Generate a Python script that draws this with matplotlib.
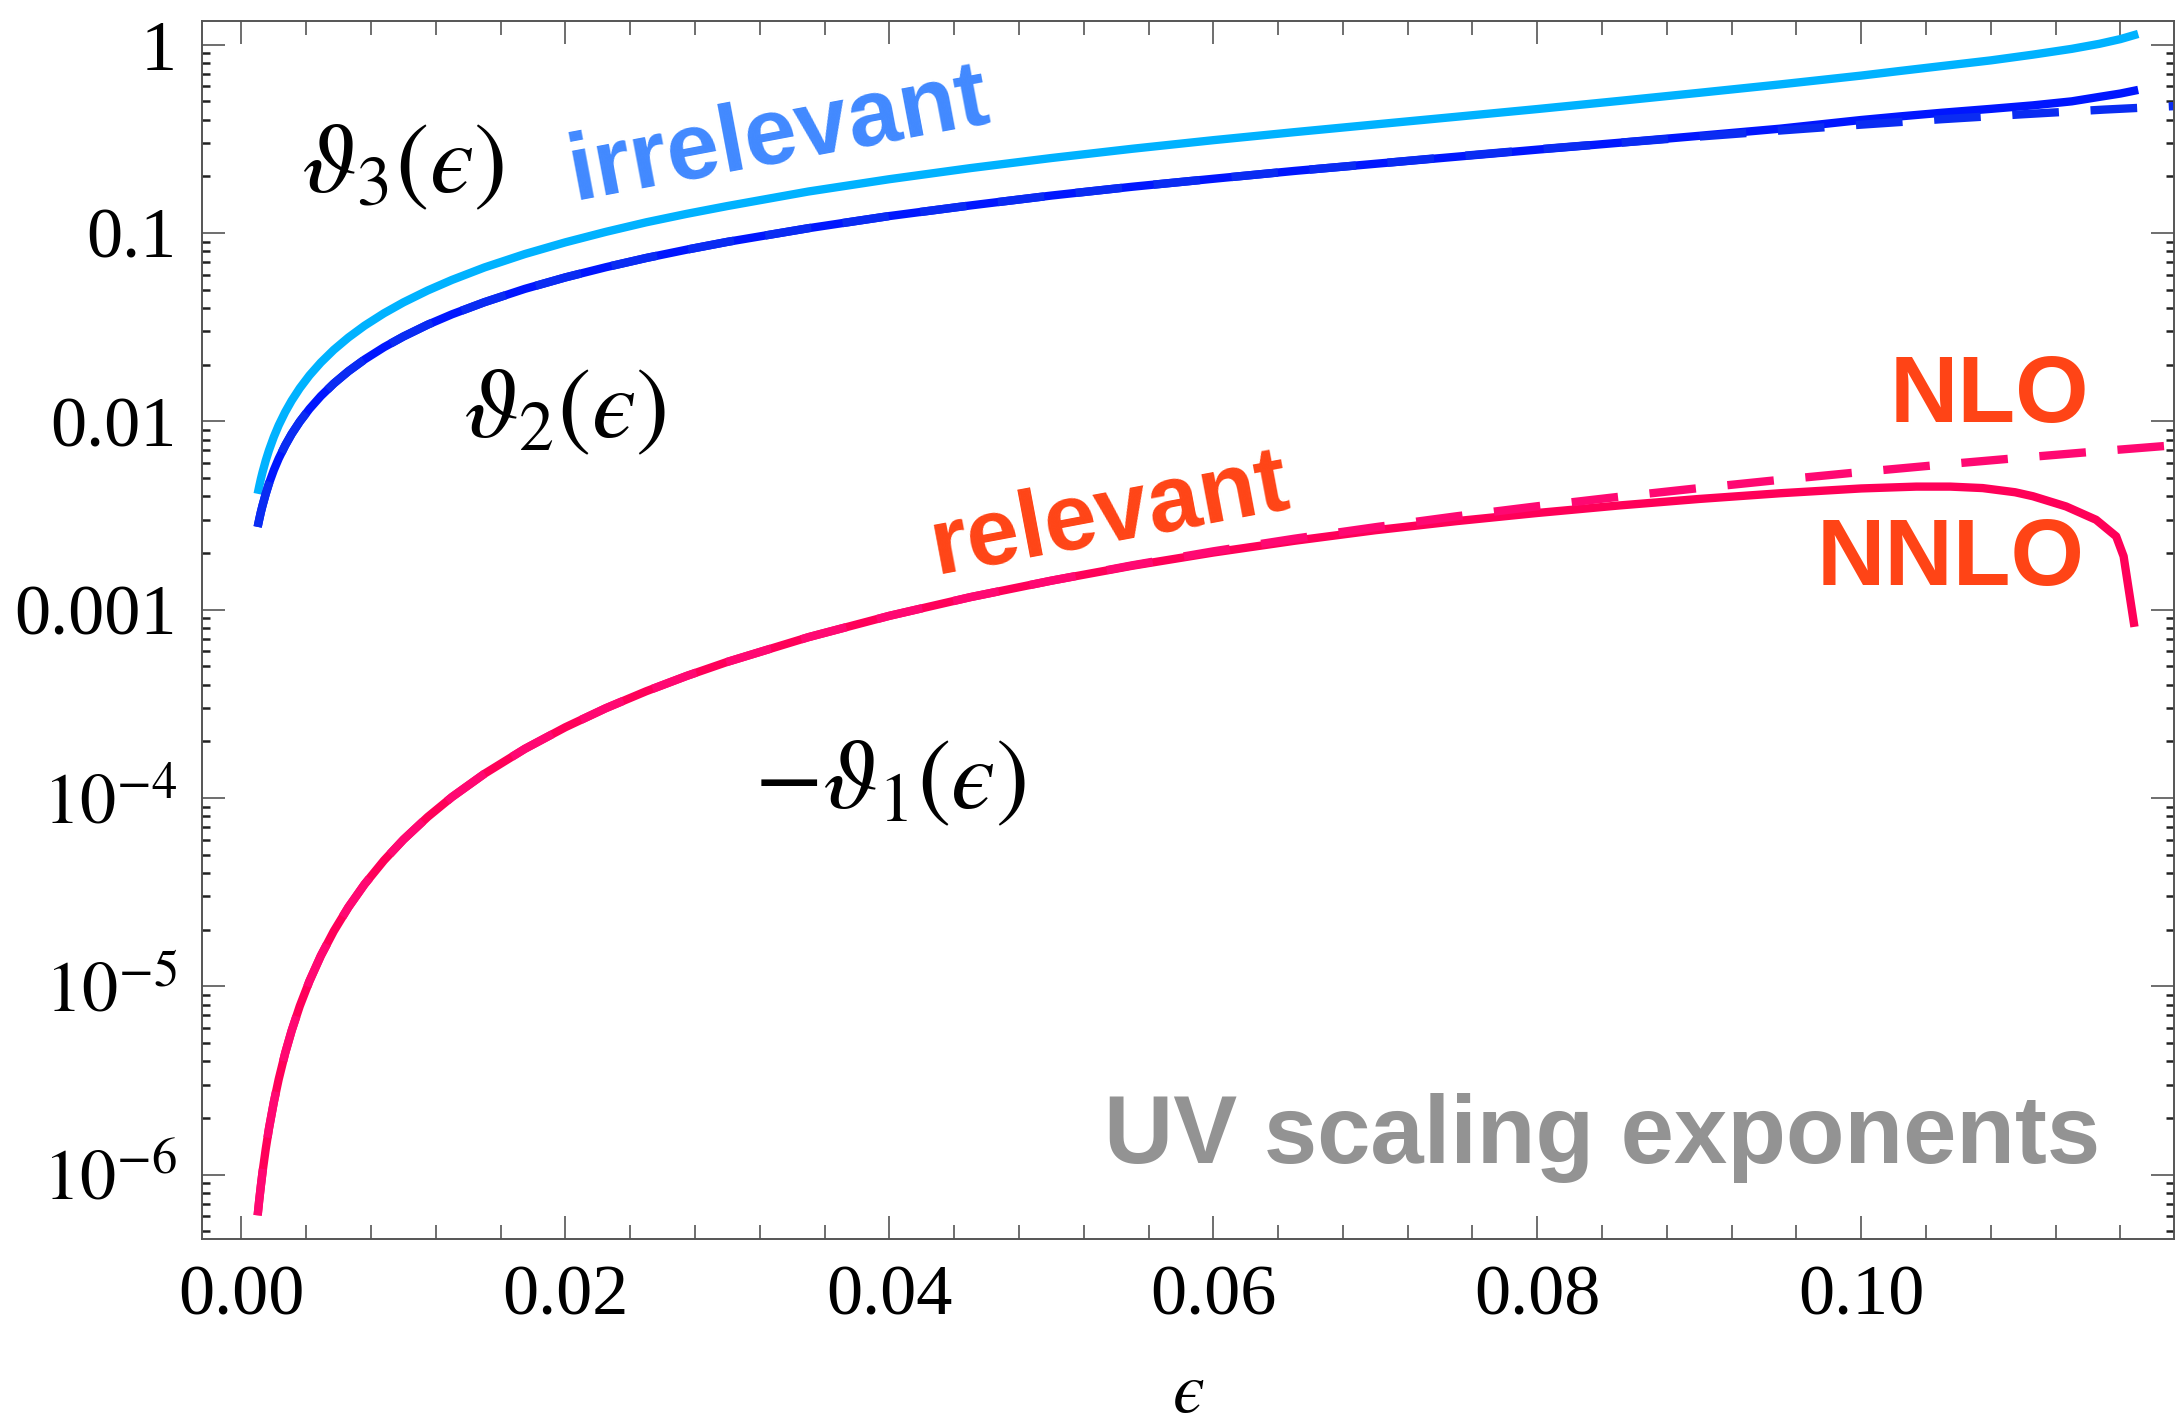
import matplotlib.pyplot as plt
import numpy as np
from matplotlib.ticker import FixedLocator, FixedFormatter, LogLocator, MultipleLocator, NullFormatter

plt.rcParams['mathtext.fontset'] = 'stix'
plt.rcParams['font.family'] = 'Liberation Serif'

# epsilon grid shared by all exponents up to 0.1 (dense near the origin)
eps_core = [0.001, 0.0011, 0.0012, 0.0013, 0.0015, 0.0017, 0.002, 0.0023, 0.0027,
            0.0031, 0.0036, 0.0042, 0.0049, 0.0057, 0.0066, 0.0076, 0.0088, 0.01,
            0.0115, 0.013, 0.015, 0.0175, 0.02, 0.0225, 0.025, 0.0275, 0.03, 0.035,
            0.04, 0.045, 0.05, 0.055, 0.06, 0.065, 0.07, 0.075, 0.08, 0.085, 0.09,
            0.095, 0.1]

# irrelevant exponents (NNLO), ending where the fixed point disappears
eps_irr_tail = [0.1024, 0.105, 0.108, 0.1106, 0.113, 0.1147, 0.116, 0.1171]
theta3 = [0.00412, 0.00453, 0.00495, 0.00536, 0.00619, 0.00702, 0.00827, 0.00953, 0.0112,
          0.01288, 0.01499, 0.01754, 0.02052, 0.02396, 0.02784, 0.0322, 0.03747, 0.0428,
          0.04953, 0.05634, 0.0656, 0.0773, 0.0892, 0.1014, 0.114, 0.1264, 0.139, 0.166,
          0.193, 0.221, 0.250, 0.280, 0.311, 0.343, 0.377, 0.414, 0.455, 0.502, 0.555,
          0.615, 0.685,
          0.725, 0.770, 0.825, 0.885, 0.950, 1.010, 1.070, 1.140]
theta2 = [0.00275, 0.00302, 0.0033, 0.00357, 0.00412, 0.00468, 0.00551, 0.00634, 0.00745,
          0.00857, 0.00996, 0.01164, 0.01361, 0.01587, 0.01843, 0.02129, 0.02474, 0.0282,
          0.03259, 0.037, 0.0429, 0.0505, 0.0581, 0.0658, 0.0737, 0.0816, 0.0897, 0.106,
          0.123, 0.140, 0.158, 0.176, 0.194, 0.2135, 0.233, 0.254, 0.277, 0.301, 0.328,
          0.358, 0.398,
          0.416, 0.435, 0.456, 0.476, 0.500, 0.528, 0.550, 0.575]

# theta2 at NLO, continued to the edge of the frame
eps_nlo_tail = [0.105, 0.11, 0.115, 0.1194]
theta2_nlo = [0.00275, 0.00302, 0.0033, 0.00357, 0.00412, 0.00468, 0.00551, 0.00634, 0.00745,
              0.00857, 0.00996, 0.01164, 0.01361, 0.01587, 0.01843, 0.02129, 0.02474, 0.0282,
              0.03259, 0.037, 0.0429, 0.0505, 0.0581, 0.0658, 0.0737, 0.0816, 0.0897, 0.106,
              0.123, 0.140, 0.158, 0.176, 0.194, 0.2135, 0.233, 0.255, 0.278, 0.301, 0.325,
              0.350, 0.376,
              0.402, 0.427, 0.452, 0.472]

# relevant exponent -theta1
eps_rel_tail = [0.1034, 0.1055, 0.1075, 0.1095, 0.1106, 0.11265, 0.1145, 0.11574, 0.1162, 0.11687]
theta1_nnlo = [6.08e-7, 7.36e-7, 8.75e-7, 1.03e-6, 1.37e-6, 1.76e-6, 2.43e-6, 3.21e-6, 4.42e-6,
               5.82e-6, 7.85e-6, 1.067e-5, 1.452e-5, 1.962e-5, 2.628e-5, 3.481e-5, 4.66e-5, 6.01e-5,
               7.93e-5, 1.012e-4, 1.344e-4, 1.824e-4, 2.375e-4, 2.998e-4, 3.69e-4, 4.45e-4, 5.28e-4,
               7.14e-4, 9.27e-4, 1.165e-3, 1.425e-3, 1.71e-3, 2.01e-3, 2.32e-3, 2.64e-3, 2.95e-3,
               3.26e-3, 3.57e-3, 3.87e-3, 4.15e-3, 4.40e-3,
               4.50e-3, 4.50e-3, 4.42e-3, 4.20e-3, 4.00e-3, 3.53e-3, 3.00e-3, 2.45e-3, 1.92e-3, 8.1e-4]
theta1_nlo = [6.08e-7, 7.36e-7, 8.75e-7, 1.03e-6, 1.37e-6, 1.76e-6, 2.43e-6, 3.21e-6, 4.42e-6,
              5.82e-6, 7.85e-6, 1.067e-5, 1.452e-5, 1.962e-5, 2.628e-5, 3.481e-5, 4.66e-5, 6.01e-5,
              7.93e-5, 1.012e-4, 1.344e-4, 1.824e-4, 2.375e-4, 2.998e-4, 3.69e-4, 4.45e-4, 5.28e-4,
              7.14e-4, 9.27e-4, 1.165e-3, 1.425e-3, 1.72e-3, 2.04e-3, 2.38e-3, 2.74e-3, 3.13e-3,
              3.54e-3, 3.97e-3, 4.42e-3, 4.89e-3, 5.38e-3,
              5.89e-3, 6.42e-3, 6.97e-3, 7.47e-3]

y_ticks = [1e-6, 1e-5, 1e-4, 1e-3, 1e-2, 1e-1, 1]
y_ticklabels = [r'$10^{-6}$', r'$10^{-5}$', r'$10^{-4}$', '0.001', '0.01', '0.1', '1']
x_ticks = [0.0, 0.02, 0.04, 0.06, 0.08, 0.10]
x_ticklabels = ['0.00', '0.02', '0.04', '0.06', '0.08', '0.10']

eps_irr = np.array(eps_core + eps_irr_tail)
eps_nlo = np.array(eps_core + eps_nlo_tail)
eps_rel = np.array(eps_core + eps_rel_tail)

fig = plt.figure(figsize=(10.88, 7.12), dpi=200)
ax = fig.add_axes([0.0928, 0.1299, 0.9062, 0.8553])

lw = 3.0
ax.plot(eps_irr, theta3, color='#00B2FF', lw=lw, solid_capstyle='butt')
ax.plot(eps_irr, theta2, color='#0016FF', lw=lw, solid_capstyle='butt')
ax.plot(eps_nlo, theta2_nlo, color='#0A2CF2', lw=lw, dashes=(5.6, 3.8), dash_capstyle='butt')
ax.plot(eps_rel, theta1_nnlo, color='#FF0058', lw=lw, solid_capstyle='butt')
ax.plot(eps_nlo, theta1_nlo, color='#FF0872', lw=lw, dashes=(5.6, 3.8), dash_capstyle='butt')

ax.set_yscale('log')
ax.set_xlim(-0.00244, 0.1193)
ax.set_ylim(4.55e-7, 1.334)

ax.yaxis.set_major_locator(FixedLocator(y_ticks))
ax.yaxis.set_major_formatter(FixedFormatter(y_ticklabels))
ax.yaxis.set_minor_locator(LogLocator(base=10, subs=np.arange(2, 10), numticks=20))
ax.yaxis.set_minor_formatter(NullFormatter())
ax.xaxis.set_major_locator(FixedLocator(x_ticks))
ax.xaxis.set_major_formatter(FixedFormatter(x_ticklabels))
ax.xaxis.set_minor_locator(MultipleLocator(0.004))

ax.tick_params(which='both', direction='in', top=True, right=True, labelsize=26)
ax.tick_params(which='major', length=8.3, width=0.6, color='#555555', pad=9)
ax.tick_params(axis='x', which='minor', length=5, width=0.6, color='#555555')
ax.tick_params(axis='y', which='minor', length=2.9, width=0.9, color='#222222')
for s in ax.spines.values():
    s.set_color('#555555')
    s.set_linewidth(0.7)

ax.set_xlabel('$ϵ$', fontsize=26, labelpad=12)

# curve labels
ax.text(0.1019, 0.8793, r'$\vartheta_3(ϵ)$', transform=ax.transAxes,
        fontsize=36, ha='center', va='center')
ax.text(0.1841, 0.6782, r'$\vartheta_2(ϵ)$', transform=ax.transAxes,
        fontsize=36, ha='center', va='center')
ax.text(0.3489, 0.3736, r'$-\vartheta_1(ϵ)$', transform=ax.transAxes,
        fontsize=36, ha='center', va='center')

bold = dict(family='Liberation Sans', fontweight='bold', fontsize=34,
            transform=ax.transAxes, ha='center', va='center')
ax.text(0.2926, 0.9056, 'irrelevant', color='#4189FF', rotation=10.7,
        rotation_mode='anchor', **bold)
ax.text(0.4604, 0.5936, 'relevant', color='#FF4416', rotation=10.7,
        rotation_mode='anchor', **bold)
ax.text(0.9067, 0.6913, 'NLO', color='#FF4416', **bold)
ax.text(0.8869, 0.5567, 'NNLO', color='#FF4416', **bold)
ax.text(0.7099, 0.0624, 'UV scaling exponents', color='#939393',
        **{**bold, 'va': 'baseline', 'fontsize': 34.5})

fig.savefig('out.png', dpi=200)
